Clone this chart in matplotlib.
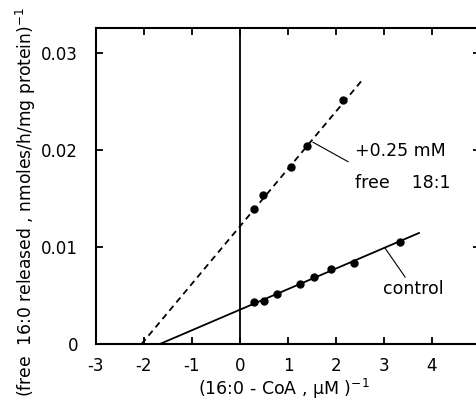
import numpy as np
import matplotlib
matplotlib.use("Agg")
import matplotlib.pyplot as plt

plt.rcParams['font.family'] = ['DejaVu Sans']

# pontos: 1/[S] e 1/v
x_oleato = [0.29, 0.48, 1.06, 1.40, 2.15]
y_oleato = [0.0139, 0.0154, 0.0183, 0.0204, 0.0252]
x_controle = [0.29, 0.51, 0.78, 1.25, 1.55, 1.89, 2.37, 3.33]
y_controle = [0.0043, 0.0044, 0.0052, 0.0062, 0.0069, 0.0077, 0.0084, 0.0105]

# retas (inclinacao, intercepto, faixa em x)
reta_oleato = (0.00592, 0.01214, -2.05, 2.56)
reta_controle = (0.00212, 0.00354, -1.67, 3.73)

xticks = [-3, -2, -1, 0, 1, 2, 3, 4]
yticks = [0, 0.01, 0.02, 0.03]
ytick_labels = ['0', '0.01', '0.02', '0.03']

fig = plt.figure(figsize=(4.77, 4.0), dpi=100)
ax = fig.add_axes([96 / 477, 56 / 400, 384 / 477, 316 / 400])

for (a, b, x0, x1), ls in [(reta_oleato, (0, (3.5, 2.5))), (reta_controle, '-')]:
    xs = np.array([x0, x1])
    ax.plot(xs, a * xs + b, color='black', lw=1.3, linestyle=ls)

ax.plot(x_oleato, y_oleato, 'o', color='black', ms=5)
ax.plot(x_controle, y_controle, 'o', color='black', ms=5)
ax.axvline(0, color='black', lw=1.3)

ax.set_xlim(-3, 5)
ax.set_ylim(0, 0.03258)
ax.set_xticks(xticks)
ax.set_xticklabels([str(t) for t in xticks])
ax.set_yticks(yticks)
ax.set_yticklabels(ytick_labels)
ax.tick_params(direction='in', length=5, width=1.3, labelsize=12,
               top=True, right=True)
ax.tick_params(axis='x', pad=9.5)
ax.tick_params(axis='y', pad=13)
for s in ax.spines.values():
    s.set_linewidth(1.5)

# anotacoes
ax.plot([1.52, 2.25], [0.0208, 0.0188], color='black', lw=0.8)
ax.text(2.4, 0.0199, '+0.25 mM', fontsize=12.5, va='center')
ax.text(2.4, 0.0166, 'free    18:1', fontsize=12.5, va='center')
ax.plot([3.02, 3.44], [0.0099, 0.0069], color='black', lw=0.8)
ax.text(4.25, 0.0057, 'control', fontsize=12.5, va='center', ha='right')

ax.set_xlabel('(16:0 - CoA , µM )$^{-1}$', fontsize=12.5)
ax.set_ylabel('(free  16:0 released , nmoles/h/mg protein)$^{-1}$', fontsize=12.3)
ax.xaxis.set_label_coords(0.488, -0.104)
ax.yaxis.set_label_coords(-0.151, 0.45)

fig.savefig('out.png', dpi=100)
